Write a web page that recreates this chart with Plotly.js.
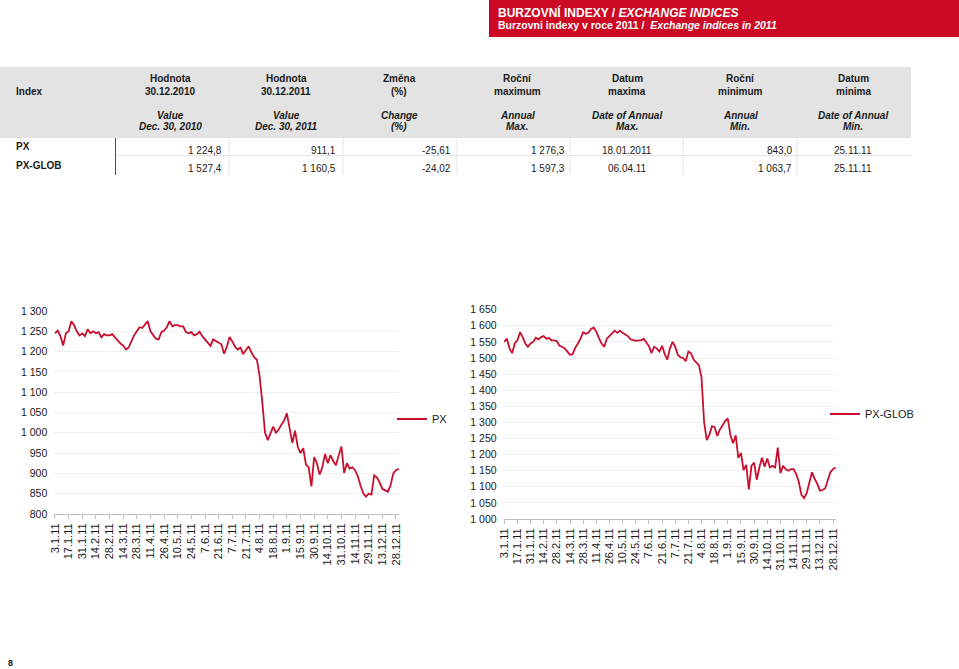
<!DOCTYPE html>
<html>
<head>
<meta charset="utf-8">
<script src="https://cdn.plot.ly/plotly-3.0.1.min.js"></script>
<style>
html,body{margin:0;padding:0;background:#fff;}
#chart{width:959px;height:669px;}
</style>
</head>
<body>
<div id="chart"></div>
<script>
// ---------- DATA ----------
// trading-day index (0 = 3.1.2011) of each value
const tradingDay = [0,2,4,6,8,10,12,14,16,18,20,22,24,26,28,30,32,34,36,38,40,42,44,46,48,50,52,54,56,58,60,62,64,66,68,70,72,74,76,78,80,82,84,86,88,90,92,94,96,98,100,102,104,106,108,110,112,114,116,118,120,122,124,126,128,130,132,134,136,138,140,142,144,146,148,150,152,154,156,158,160,162,164,166,168,170,172,174,176,178,180,182,184,186,188,190,192,194,196,198,200,202,204,206,208,210,212,214,216,218,220,222,224,226,228,230,232,234,236,238,240,242,244,246,248,250,252];

const pxValues = [
  1245,1252,1238,1215,1245,1250,1275,1265,1250,1240,
  1245,1238,1255,1245,1250,1245,1248,1235,1243,1240,
  1240,1243,1235,1226,1220,1215,1205,1210,1226,1240,
  1250,1260,1258,1268,1275,1250,1240,1232,1230,1248,
  1252,1260,1275,1262,1265,1265,1262,1262,1248,1245,
  1248,1240,1243,1249,1238,1230,1220,1214,1230,1225,
  1222,1218,1195,1212,1236,1225,1212,1205,1210,1194,
  1205,1213,1198,1186,1180,1140,1075,1000,982,1000,
  1015,1000,1008,1020,1030,1048,1010,975,1005,965,
  950,962,922,915,868,940,925,897,915,948,
  925,945,930,920,945,966,901,925,912,915,
  908,893,870,851,843,850,848,895,890,878,
  862,858,855,870,900,908,911
];

const pxGlobValues = [
  1550,1560,1530,1515,1545,1555,1580,1565,1545,1535,
  1545,1550,1563,1558,1565,1568,1560,1562,1555,1555,
  1552,1538,1535,1530,1520,1510,1512,1532,1545,1560,
  1580,1575,1578,1590,1595,1582,1562,1545,1535,1560,
  1568,1575,1585,1578,1585,1578,1572,1568,1558,1555,
  1553,1555,1555,1560,1548,1537,1515,1535,1530,1520,
  1538,1512,1495,1530,1550,1535,1510,1502,1500,1490,
  1520,1515,1495,1488,1478,1440,1300,1245,1262,1288,
  1285,1258,1278,1290,1305,1312,1260,1235,1260,1190,
  1205,1152,1168,1092,1165,1175,1122,1160,1190,1162,
  1188,1160,1165,1160,1222,1142,1165,1155,1150,1155,
  1155,1140,1115,1075,1065,1080,1110,1145,1125,1110,
  1088,1090,1095,1120,1145,1155,1160
];

const tickDays = [0,10,20,30,40,50,60,70,80,90,100,110,120,130,140,150,160,170,180,190,200,210,220,230,240,250];
const tickLabels = ['3.1.11','17.1.11','31.1.11','14.2.11','28.2.11','14.3.11','28.3.11','11.4.11','26.4.11','10.5.11','24.5.11','7.6.11','21.6.11','7.7.11','21.7.11','4.8.11','18.8.11','1.9.11','15.9.11','30.9.11','14.10.11','31.10.11','14.11.11','29.11.11','13.12.11','28.12.11'];

const seriesNames = ['PX','PX-GLOB'];

const headerCz1 = ['Hodnota','Hodnota','Změna','Roční','Datum','Roční','Datum'];
const headerCz2 = ['30.12.2010','30.12.2011','(%)','maximum','maxima','minimum','minima'];
const headerEn1 = ['Value','Value','Change','Annual','Date of Annual','Annual','Date of Annual'];
const headerEn2 = ['Dec. 30, 2010','Dec. 30, 2011','(%)','Max.','Max.','Min.','Min.'];
const rowNames = ['PX','PX-GLOB'];
const rowValues = [
  ['1 224,8','911,1','-25,61','1 276,3','18.01.2011','843,0','25.11.11'],
  ['1 527,4','1 160,5','-24,02','1 597,3','06.04.11','1 063,7','25.11.11']
];

// ---------- LAYOUT HELPERS ----------
const W = 959, H = 669;
const fx = x => x / W;
const fy = y => 1 - y / H;
const FONT = 'Arial, "Liberation Sans", sans-serif';
const RED = '#c8102e';
const TXT = '#1a1a1a';

const annotations = [];
const shapes = [];
function text(x, y, t, size, anchor, color) {
  annotations.push({
    xref: 'paper', yref: 'paper', x: fx(x), y: fy(y),
    text: t, showarrow: false, xanchor: anchor || 'left', yanchor: 'middle',
    font: {family: FONT, size: size, color: color || TXT}, borderpad: 0
  });
}
function rect(x0, y0, x1, y1, fill) {
  shapes.push({type: 'rect', xref: 'paper', yref: 'paper', x0: fx(x0), x1: fx(x1), y0: fy(y1), y1: fy(y0),
    fillcolor: fill, line: {width: 0}, layer: 'below'});
}
function line(x0, y0, x1, y1, color, w) {
  shapes.push({type: 'line', xref: 'paper', yref: 'paper', x0: fx(x0), x1: fx(x1), y0: fy(y0), y1: fy(y1),
    line: {color: color, width: w || 1}});
}

// header banner
rect(489, 0, 959, 37, '#cc0a25');
text(497, 12, '<b>BURZOVNÍ INDEXY / <i>EXCHANGE INDICES</i></b>', 12, 'left', '#ffffff');
text(497, 25, '<b>Burzovni indexy v roce 2011 /\u00a0 <i>Exchange indices in 2011</i></b>', 10.5, 'left', '#ffffff');

// table
rect(0, 67, 911, 138, '#e3e3e3');
const colCenter = [170, 286, 399, 517, 627, 740, 853];
const colRight  = [223, 337, 452, 566, null, 793, null];
text(15, 91, '<b>Index</b>', 10);
for (let i = 0; i < headerCz1.length; i++) {
  text(colCenter[i], 79, '<b>' + headerCz1[i] + '</b>', 10, 'center');
  text(colCenter[i], 91, '<b>' + headerCz2[i] + '</b>', 10, 'center');
  text(colCenter[i], 115, '<b><i>' + headerEn1[i] + '</i></b>', 10, 'center');
  text(colCenter[i], 127, '<b><i>' + headerEn2[i] + '</i></b>', 10, 'center');
}
const rowLabelY = [147, 165], rowValY = [150, 168];
for (let r = 0; r < rowNames.length; r++) {
  text(15, rowLabelY[r], '<b>' + rowNames[r] + '</b>', 10);
  for (let c = 0; c < rowValues[r].length; c++) {
    if (colRight[c] !== null) text(colRight[c], rowValY[r], rowValues[r][c], 10, 'right');
    else text(colCenter[c], rowValY[r], rowValues[r][c], 10, 'center');
  }
}
line(117, 155.5, 911, 155.5, '#e6e6e6', 1);
[229, 343, 457, 570, 683, 797].forEach(x => line(x, 138, x, 175, '#e6e6e6', 1));
line(115.5, 138, 115.5, 175, '#c8102e', 1);

// page number
text(7, 663, '<b>8</b>', 9);

// ---------- CHART ----------
const xBase = {
  range: [-0.5, 252.5], tickmode: 'array', tickvals: tickDays, ticktext: tickLabels,
  tickangle: -90, ticks: 'outside', ticklen: 4, tickcolor: '#bfbfbf', tickwidth: 1,
  showline: true, linecolor: '#bfbfbf', linewidth: 1, showgrid: false, zeroline: false,
  tickfont: {family: FONT, size: 11, color: TXT}, fixedrange: true
};
const yBase = {
  dtick: 50, tickformat: ',', showgrid: true, gridcolor: '#efefef', gridwidth: 1,
  zeroline: false, showline: false, ticks: '', ticklabelstandoff: 6,
  tickfont: {family: FONT, size: 10.5, color: TXT}, fixedrange: true
};

const traces = [
  {x: tradingDay, y: pxValues, xaxis: 'x', yaxis: 'y', mode: 'lines', name: seriesNames[0],
   line: {color: RED, width: 1.8}, legend: 'legend', hoverinfo: 'skip'},
  {x: tradingDay, y: pxGlobValues, xaxis: 'x2', yaxis: 'y2', mode: 'lines', name: seriesNames[1],
   line: {color: RED, width: 1.8}, legend: 'legend2', hoverinfo: 'skip'}
];

const layout = {
  width: W, height: H, margin: {l: 0, r: 0, t: 0, b: 0},
  paper_bgcolor: '#ffffff', plot_bgcolor: '#ffffff',
  separators: ', ',
  font: {family: FONT, color: TXT},
  showlegend: true,
  xaxis: Object.assign({}, xBase, {domain: [fx(54.3), fx(399.4)], anchor: 'y'}),
  yaxis: Object.assign({}, yBase, {domain: [fy(514), fy(311)], anchor: 'x', range: [800, 1300]}),
  xaxis2: Object.assign({}, xBase, {domain: [fx(503.6), fx(836.3)], anchor: 'y2'}),
  yaxis2: Object.assign({}, yBase, {domain: [fy(519), fy(309.7)], anchor: 'x2', range: [1000, 1650]}),
  legend: {x: fx(392), y: fy(419), xanchor: 'left', yanchor: 'middle', bgcolor: 'rgba(0,0,0,0)',
           borderwidth: 0, font: {family: FONT, size: 11, color: TXT}},
  legend2: {x: fx(825), y: fy(414), xanchor: 'left', yanchor: 'middle', bgcolor: 'rgba(0,0,0,0)',
           borderwidth: 0, font: {family: FONT, size: 11, color: TXT}},
  shapes: shapes,
  annotations: annotations
};

Plotly.newPlot('chart', traces, layout, {displayModeBar: false, staticPlot: true});
</script>
</body>
</html>
